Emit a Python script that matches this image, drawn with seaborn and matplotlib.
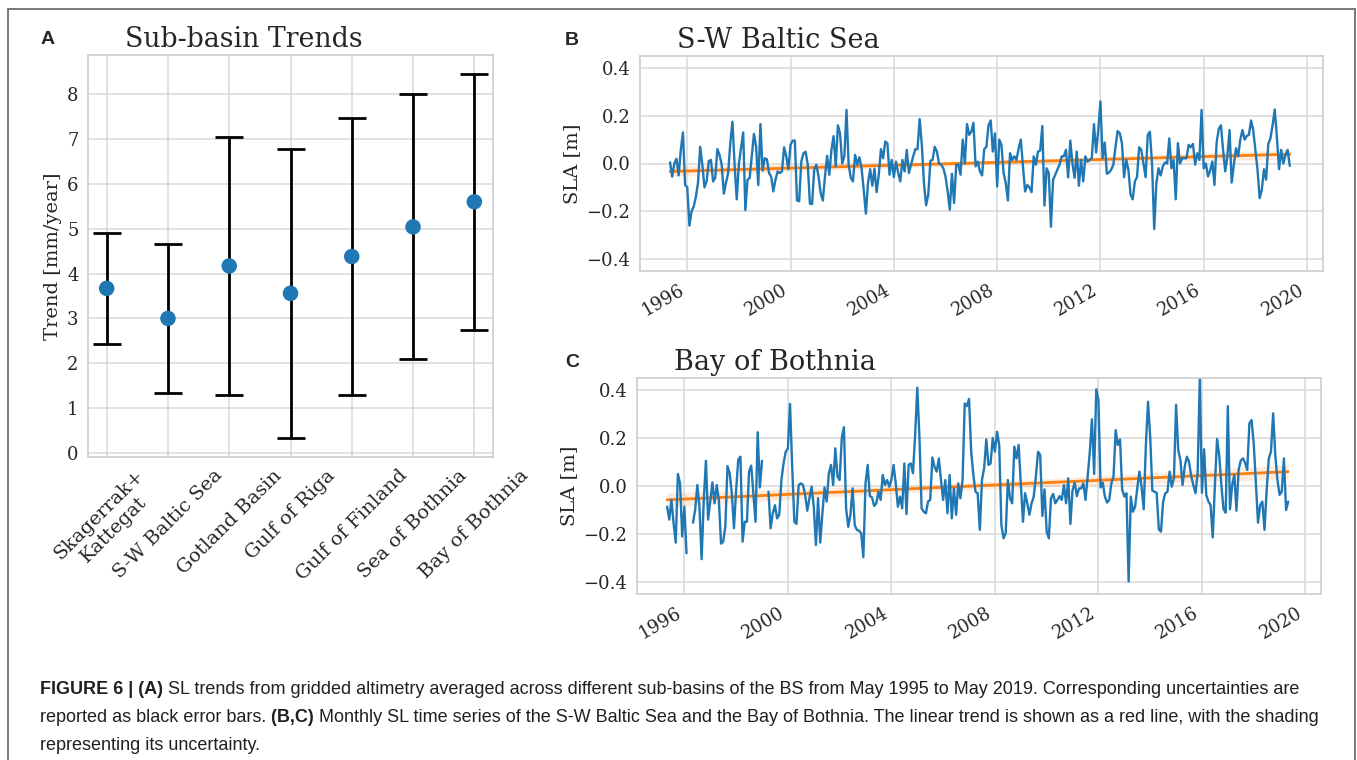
import numpy as np
import matplotlib.pyplot as plt
import matplotlib.patches as mpatches
import seaborn as sns

# panel A: sub-basin trends [mm/year] and their uncertainty
basins = ['Skagerrak+\nKattegat', 'S-W Baltic Sea', 'Gotland Basin', 'Gulf of Riga',
          'Gulf of Finland', 'Sea of Bothnia', 'Bay of Bothnia']
trend = [3.67, 3.0, 4.17, 3.56, 4.38, 5.04, 5.6]
trend_err = [1.24, 1.67, 2.87, 3.22, 3.08, 2.95, 2.85]

# panels B, C: monthly SLA [m], May 1995 - May 2019
sw_sla_a = [0.005, -0.055, 0.0, 0.02, -0.05, 0.057, 0.13, -0.09, -0.1, -0.26,
            -0.2, -0.18, -0.14, -0.08, 0.07, -0.005, -0.1, -0.075, 0.01, 0.015,
            -0.075, -0.06, 0.06, 0.036, -0.005, -0.126, -0.08, -0.04, 0.085, 0.175,
            -0.005, -0.15, 0.0, 0.064, 0.13, -0.195, -0.068, -0.06, 0.03, 0.124,
            0.07, -0.09, 0.165, -0.03, 0.022, 0.018, -0.04, -0.055, -0.117, -0.068,
            -0.033, -0.04, -0.033, 0.068, 0.03, -0.024, 0.078, 0.096, 0.096, -0.155,
            -0.158, 0.008, 0.043, 0.049, -0.005, -0.168, -0.17, -0.026, -0.005, -0.054,
            -0.124, -0.155, -0.054, 0.032, -0.047, 0.057, 0.115, -0.012, 0.16, 0.126,
            0.0, 0.03, 0.224, -0.005, -0.06, -0.075, 0.036, -0.005, 0.026, -0.02,
            -0.11, -0.21, -0.082, -0.024, -0.093, -0.022, -0.12, -0.047, 0.06, 0.022,
            0.092, 0.085, -0.047, 0.015, -0.057, 0.008, -0.038, -0.075, 0.015, -0.033,
            0.057, -0.04, -0.005, 0.03, 0.06, 0.06, 0.186, 0.078, -0.082, -0.175,
            -0.13, 0.012, 0.015, 0.07, 0.05, 0.0, -0.005, -0.02, -0.054, -0.117,
            -0.193, -0.043, -0.165, -0.005, -0.005, -0.047, 0.1, 0.0, 0.165, 0.12,
            0.133, 0.17, -0.012, 0.008]
sw_sla_b = [-0.033, -0.05, 0.06, 0.07, 0.16, 0.18, 0.05, 0.126, -0.096, 0.1,
            0.078, -0.04, -0.082, -0.155, 0.043, 0.015, 0.03, 0.015, 0.064, 0.1,
            -0.012, -0.117, -0.09, -0.1, -0.12, 0.03, -0.005, 0.05, 0.054, 0.157,
            -0.176, -0.02, -0.04, -0.265, -0.068, -0.047, -0.026, -0.005, 0.03, 0.03,
            0.057, -0.058, 0.096, 0.0, -0.06, 0.05, -0.093, 0.015, -0.075, 0.03,
            0.008, 0.015, 0.022, 0.165, 0.046, 0.14, 0.26, 0.022, 0.088, -0.043,
            -0.038, -0.026, -0.005, 0.07, 0.136, 0.126, 0.085, -0.057, 0.015, -0.026,
            -0.13, -0.15, -0.075, -0.057, 0.068, 0.057, 0.0, -0.057, 0.12, 0.133,
            -0.005, -0.274, -0.082, -0.02, -0.05, -0.012, 0.004, 0.0, 0.105, -0.02,
            0.015, -0.15, 0.085, 0.0, 0.022, 0.022, 0.022, 0.078, 0.068, 0.082,
            -0.005, 0.043, 0.015, 0.224, -0.02, 0.0, -0.054, -0.03, 0.008, -0.09,
            0.088, 0.145, 0.16, 0.057, -0.033, 0.03, 0.14, -0.08, -0.005, 0.064,
            0.03, 0.1, 0.14, 0.1, 0.115, 0.12, 0.18, 0.14, 0.057, -0.026,
            -0.145, -0.11, -0.024, -0.068, 0.082, 0.105, 0.16, 0.226, 0.112, -0.024,
            0.057, 0.0, 0.036, 0.057, -0.01]
nan = np.nan
bob_sla_a = [-0.086, -0.14, -0.058, -0.155, -0.236, 0.05, 0.011, -0.21, -0.086, -0.28,
             nan, nan, -0.153, -0.1, 0.004, -0.086, -0.305, -0.058, 0.105, -0.14,
             -0.065, 0.015, -0.072, 0.004, -0.058, -0.24, -0.232, -0.17, 0.083, 0.053,
             -0.03, -0.176, -0.017, 0.11, 0.122, -0.232, -0.149, -0.149, 0.06, 0.085,
             -0.03, -0.149, 0.224, -0.006, 0.105, nan, nan, -0.024, -0.176, -0.114,
             -0.08, -0.135, -0.12, 0.025, 0.094, 0.143, 0.157, 0.342, 0.08, -0.149,
             -0.158, 0.004, 0.011, 0.004, -0.037, -0.103, -0.051, -0.003, -0.086, -0.246,
             -0.051, -0.236, -0.114, -0.006, -0.065, 0.053, 0.088, 0.004, 0.157, 0.039,
             0.025, 0.2, 0.245, -0.093, -0.17, -0.12, -0.01, -0.163, -0.183, -0.186,
             -0.197, -0.297, 0.011, 0.088, -0.042, -0.047, -0.083, -0.072, -0.024, -0.058,
             0.046, 0.004, 0.025, -0.003, 0.025, 0.088, 0.011, -0.086, -0.044, -0.093,
             0.094, -0.117, 0.088, 0.094, 0.053, 0.212, 0.41, 0.205, -0.093, -0.107,
             -0.114, -0.065, -0.058, 0.119, 0.08, 0.06, 0.115, 0.025, -0.058, 0.025,
             -0.114, 0.046, -0.135, -0.01, -0.12, 0.011, -0.051, 0.025, 0.344, 0.333,
             0.363, 0.143, 0.046, -0.024, -0.03]
bob_sla_b = [-0.183, 0.025, 0.074, 0.194, 0.088, 0.094, 0.2, 0.143, 0.226, 0.171,
             -0.163, -0.218, -0.197, 0.025, -0.051, -0.072, 0.164, 0.115, 0.171, 0.011,
             -0.149, -0.03, -0.072, -0.12, -0.072, -0.044, 0.039, 0.143, 0.129, -0.125,
             -0.014, -0.19, -0.218, -0.051, -0.033, -0.072, -0.058, -0.042, -0.058, 0.004,
             -0.072, 0.032, -0.158, -0.017, 0.014, -0.042, -0.01, -0.01, 0.011, -0.058,
             0.039, 0.143, 0.278, 0.05, 0.403, 0.358, -0.006, 0.014, -0.044, -0.069,
             -0.058, 0.011, 0.039, 0.233, 0.171, 0.194, -0.014, -0.044, -0.03, -0.398,
             -0.044, -0.107, -0.086, -0.01, 0.06, -0.003, -0.097, 0.171, 0.351, 0.205,
             -0.019, -0.024, -0.028, -0.181, -0.19, -0.065, -0.03, -0.024, 0.06, -0.003,
             0.032, 0.338, 0.15, 0.108, 0.004, 0.08, 0.122, 0.101, 0.042, 0.004,
             -0.03, 0.053, 0.45, -0.028, 0.153, -0.037, -0.065, -0.079, -0.214, 0.004,
             0.196, 0.129, 0.004, -0.097, -0.111, 0.333, -0.097, 0.004, 0.046, -0.103,
             0.067, 0.106, 0.115, 0.097, 0.067, 0.261, 0.275, 0.178, 0.011, -0.153,
             -0.079, -0.065, -0.183, -0.017, 0.115, 0.143, 0.303, 0.129, 0.025, -0.037,
             -0.024, 0.115, -0.1, -0.065]
year_ticks = [1996, 2000, 2004, 2008, 2012, 2016, 2020]

caption = [
    [('FIGURE 6 | (A)', True),
     (' SL trends from gridded altimetry averaged across different sub-basins of the BS '
      'from May 1995 to May 2019. Corresponding uncertainties are', False)],
    [('reported as black error bars.', False), (' (B,C)', True),
     (' Monthly SL time series of the S-W Baltic Sea and the Bay of Bothnia. The linear '
      'trend is shown as a red line, with the shading', False)],
    [('representing its uncertainty.', False)],
]

W, H = 1357, 760
sns.set_style('whitegrid', {'grid.color': '.85', 'axes.edgecolor': '.82'})
plt.rcParams['font.family'] = 'serif'
plt.rcParams['font.serif'] = ['DejaVu Serif']
plt.rcParams['grid.linewidth'] = 1.1
plt.rcParams['axes.linewidth'] = 1.3

fig = plt.figure(figsize=(W / 100, H / 100), dpi=100)


def box(l, t, r, b):
    return [l / W, 1 - b / H, (r - l) / W, (b - t) / H]


sans = ['Liberation Sans', 'DejaVu Sans']

# ---- A
axA = fig.add_axes(box(88.3, 55, 492.7, 456.7))
pos = np.arange(len(basins))
axA.errorbar(pos, trend, yerr=trend_err, fmt='none', ecolor='black',
             elinewidth=2, capsize=10, capthick=2, zorder=2)
sns.scatterplot(x=pos, y=trend, ax=axA, s=125, color='#1f77b4',
                edgecolor='none', zorder=3)
axA.set_xticks(pos)
axA.set_xticklabels(basins, rotation=45, fontsize=14)
axA.set_xlim(-0.3, 6.3)
axA.set_ylim(-0.08, 8.87)
axA.set_yticks(range(9))
axA.tick_params(axis='y', labelsize=13)
axA.set_ylabel('Trend [mm/year]', fontsize=14)
fig.text(125 / W, 1 - 47 / H, 'Sub-basin Trends', fontsize=19.3, va='baseline')
fig.text(41 / W, 1 - 44.5 / H, 'A', family=sans, weight='bold', fontsize=14, va='baseline')

# ---- B, C
months = np.arange(len(sw_sla_a) + len(sw_sla_b))
t = 1995 + (4 + months) / 12
panels = [
    (box(640, 56, 1322.5, 271), np.array(sw_sla_a + sw_sla_b), 'S-W Baltic Sea', 48, 'B', 45),
    (box(637, 378, 1321, 594), np.array(bob_sla_a + bob_sla_b), 'Bay of Bothnia', 370, 'C', 367),
]
for rect, sla, title, ty, letter, ly in panels:
    ax = fig.add_axes(rect)
    ok = ~np.isnan(sla)
    sns.regplot(x=t[ok], y=sla[ok], ax=ax, scatter=False, color='#ff7f0e',
                ci=95, seed=0, line_kws={'lw': 2})
    ax.plot(t, sla, color='#1f77b4', lw=1.7)
    ax.set_xlim(1994.17, 2020.6)
    ax.set_ylim(-0.45, 0.45)
    ax.set_yticks([-0.4, -0.2, 0.0, 0.2, 0.4])
    ax.set_xticks(year_ticks)
    ax.set_xticklabels([str(y) for y in year_ticks], rotation=30, ha='right', fontsize=13)
    ax.tick_params(axis='y', labelsize=13)
    ax.set_ylabel('SLA [m]', fontsize=14)
    fig.text(rect[0] + 37 / W, 1 - ty / H, title, fontsize=19.5, va='baseline')
    fig.text(565 / W, 1 - ly / H, letter, family=sans, weight='bold', fontsize=14,
             va='baseline')

# ---- caption, bold parts drawn as separate runs
renderer = fig.canvas.get_renderer()
for k, runs in enumerate(caption):
    x = 40
    for s, bold in runs:
        txt = fig.text(x / W, 1 - (690 + 28 * k) / H, s, family=sans, fontsize=13,
                       weight='bold' if bold else 'normal', color='#231f20', va='center')
        x = txt.get_window_extent(renderer).x1

fig.add_artist(mpatches.Rectangle((8 / W, -0.05), 1347 / W, 1.05 - 9.5 / H,
                                  transform=fig.transFigure, fill=False,
                                  edgecolor='#6e6e6e', lw=1.3))

fig.savefig('out.png', dpi=100)
